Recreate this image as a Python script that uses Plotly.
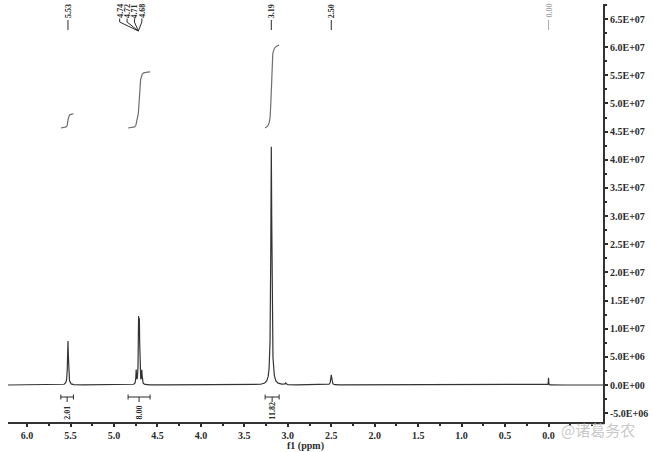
import numpy as np
import plotly.graph_objects as go

# ---------------- data ----------------
peak_ppm = [5.53, 4.745, 4.717, 4.708, 4.68, 3.19, 3.025, 2.50, 0.00]
peak_height = [7.8e6, 2.4e6, 1.05e7, 1.0e7, 2.4e6, 4.23e7, 3.0e5, 1.8e6, 1.3e6]
peak_hwhm = [0.006, 0.004, 0.004, 0.004, 0.004, 0.007, 0.006, 0.007, 0.002]

single_labels = ["5.53", "3.19", "2.50", "0.00"]
single_label_ppm = [5.53, 3.19, 2.50, 0.00]
multiplet_labels = ["4.74", "4.72", "4.71", "4.68"]
multiplet_ppm = [4.74, 4.72, 4.71, 4.68]

integral_values = [2.01, 8.00, 11.82]
integral_from = [5.612, 4.838, 3.261]
integral_to = [5.467, 4.585, 3.100]
integral_base = 4.565e7
integral_scale = 1.245e6  # intensity units per integral unit

x_tick_vals = [6.0, 5.5, 5.0, 4.5, 4.0, 3.5, 3.0, 2.5, 2.0, 1.5, 1.0, 0.5, 0.0]
x_tick_text = ["6.0", "5.5", "5.0", "4.5", "4.0", "3.5", "3.0", "2.5", "2.0", "1.5", "1.0", "0.5", "0.0"]
y_tick_vals = [-5e6, 0, 5e6, 1e7, 1.5e7, 2e7, 2.5e7, 3e7, 3.5e7, 4e7, 4.5e7, 5e7, 5.5e7, 6e7, 6.5e7]
y_tick_text = ["{:.1E}".format(v) for v in y_tick_vals]

# ---------------- build spectrum ----------------
x = np.linspace(6.22, -0.627, 14000)
y = np.zeros_like(x)
for p, h, w in zip(peak_ppm, peak_height, peak_hwhm):
    y += h / (1.0 + ((x - p) / w) ** 2)

# layout geometry helpers (pixel -> paper)
PLOT_TOP, PLOT_BOT = 4, 422
def py(px):
    return (PLOT_BOT - px) / (PLOT_BOT - PLOT_TOP)

SERIF = "Liberation Serif"
INK = "#2b2b2b"

fig = go.Figure()
fig.add_trace(go.Scatter(x=x, y=y, mode="lines",
                         line=dict(color="#333333", width=1.2),
                         hoverinfo="skip"))

# integral curves
for val, a, b in zip(integral_values, integral_from, integral_to):
    m = (x <= a) & (x >= b)
    xs = x[m]
    cs = np.cumsum(y[m])
    cs = (cs - cs[0]) / (cs[-1] - cs[0])
    fig.add_trace(go.Scatter(x=xs, y=integral_base + cs * val * integral_scale,
                             mode="lines", line=dict(color="#6e6e6e", width=1.2),
                             hoverinfo="skip"))

shapes = []
annotations = []

# single peak labels
for lab, p in zip(single_labels, single_label_ppm):
    col = "#aaaaaa" if lab == "0.00" else INK
    annotations.append(dict(x=p, y=py(11), xref="x", yref="paper", text=lab,
                            textangle=-90, showarrow=False, xanchor="center", yanchor="middle",
                            font=dict(family=SERIF, size=8, color=col, weight="bold")))
    shapes.append(dict(type="line", xref="x", yref="paper", x0=p, x1=p,
                       y0=py(20), y1=py(30), line=dict(color=col, width=1)))

# multiplet labels (spread to the left of the last line)
spacing = 0.085
n = len(multiplet_labels)
for i, (lab, p) in enumerate(zip(multiplet_labels, multiplet_ppm)):
    lx = multiplet_ppm[-1] + (n - 1 - i) * spacing
    annotations.append(dict(x=lx, y=py(11), xref="x", yref="paper", text=lab,
                            textangle=-90, showarrow=False, xanchor="center", yanchor="middle",
                            font=dict(family=SERIF, size=8, color=INK, weight="bold")))
    shapes.append(dict(type="line", xref="x", yref="paper", x0=lx, x1=lx,
                       y0=py(18.5), y1=py(22), line=dict(color=INK, width=1)))
    shapes.append(dict(type="line", xref="x", yref="paper", x0=lx, x1=4.72,
                       y0=py(22), y1=py(31), line=dict(color=INK, width=1)))

# integration brackets and values
for val, a, b in zip(integral_values, integral_from, integral_to):
    c = (a + b) / 2
    lc = dict(color=INK, width=1)
    shapes.append(dict(type="line", xref="x", yref="paper", x0=a, x1=b, y0=py(397), y1=py(397), line=lc))
    shapes.append(dict(type="line", xref="x", yref="paper", x0=a, x1=a, y0=py(394.5), y1=py(399.5), line=lc))
    shapes.append(dict(type="line", xref="x", yref="paper", x0=b, x1=b, y0=py(394.5), y1=py(399.5), line=lc))
    shapes.append(dict(type="line", xref="x", yref="paper", x0=c, x1=c, y0=py(397), y1=py(402), line=lc))
    annotations.append(dict(x=c, y=py(420.5), xref="x", yref="paper", text="{:.2f}".format(val),
                            textangle=-90, showarrow=False, xanchor="center", yanchor="bottom",
                            borderpad=0,
                            font=dict(family=SERIF, size=8, color=INK, weight="bold")))

# watermark
annotations.append(dict(x=(598 - 8) / 595, y=py(429), xref="paper", yref="paper",
                        text="@诸葛务农", showarrow=False, xanchor="center", yanchor="middle",
                        font=dict(family="Noto Sans CJK SC", size=15, color="rgba(190,190,190,0.85)")))

tickfont = dict(family=SERIF, size=10, color=INK, weight="bold")
fig.update_layout(
    width=653, height=452,
    margin=dict(l=8, r=50, t=4, b=30),
    paper_bgcolor="white", plot_bgcolor="white",
    showlegend=False,
    shapes=shapes, annotations=annotations,
    xaxis=dict(range=[6.22, -0.627], tickvals=x_tick_vals, ticktext=x_tick_text,
               ticks="outside", ticklen=3, tickwidth=1.5, tickcolor=INK,
               showline=True, linewidth=2, linecolor="#333333",
               showgrid=False, zeroline=False,
               minor=dict(tick0=0, dtick=0.25, ticks="outside", ticklen=2, tickcolor=INK),
               tickfont=tickfont,
               title=dict(text="f1 (ppm)", standoff=0,
                          font=dict(family=SERIF, size=10, color=INK, weight="bold"))),
    yaxis=dict(side="right", range=[-6.57e6, 6.767e7], tickvals=y_tick_vals, ticktext=y_tick_text,
               ticks="outside", ticklen=3, tickwidth=1.5, tickcolor=INK,
               showline=True, linewidth=2, linecolor="#333333",
               showgrid=False, zeroline=False,
               minor=dict(tick0=0, dtick=2.5e6, ticks="outside", ticklen=2, tickcolor=INK),
               tickfont=tickfont),
)

fig.write_html("out.html", config={"displayModeBar": False},
               post_script="document.body.style.margin='0';document.body.style.overflow='hidden';")
